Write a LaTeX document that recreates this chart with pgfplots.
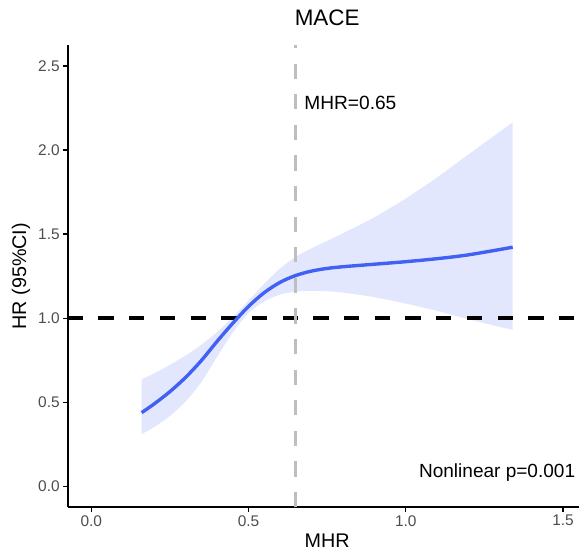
\documentclass[border=0pt]{standalone}
\usepackage{fontspec}
\setmainfont{Liberation Sans}
\usepackage{pgfplots}
\usepackage{pgfplotstable}
\pgfplotsset{compat=1.18}
\usepgfplotslibrary{fillbetween}

\definecolor{rcsblue}{HTML}{4161F5}
\definecolor{tickgray}{HTML}{4D4D4D}
\definecolor{vgray}{HTML}{BEBEBE}

% spline estimate with 95% CI
\pgfplotstableread{
x     y      lo     hi
0.16  0.438  0.310  0.636
0.20  0.490  0.352  0.672
0.25  0.563  0.418  0.722
0.30  0.648  0.505  0.778
0.35  0.748  0.620  0.842
0.40  0.862  0.770  0.918
0.45  0.970  0.915  1.005
0.50  1.070  1.030  1.105
0.55  1.152  1.100  1.205
0.60  1.213  1.140  1.295
0.65  1.254  1.158  1.365
0.70  1.280  1.163  1.415
0.75  1.296  1.160  1.460
0.80  1.306  1.152  1.505
0.90  1.321  1.125  1.600
1.00  1.336  1.087  1.712
1.10  1.354  1.043  1.838
1.20  1.377  0.993  1.975
1.34  1.422  0.930  2.165
}\rcs

\begin{document}
\begin{tikzpicture}
\begin{axis}[
    name=ax,
    scale only axis, width=518.9bp, height=462.3bp,
    xmin=-0.075, xmax=1.575, ymin=-0.125, ymax=2.625,
    axis x line*=bottom, axis y line*=left,
    axis line style={-, line width=1.6bp, black},
    xtick={0,0.5,1,1.5}, xticklabels={0.0,0.5,1.0,1.5},
    ytick={0,0.5,1,1.5,2,2.5}, yticklabels={0.0,0.5,1.0,1.5,2.0,2.5},
    tick align=outside, major tick length=4.5bp,
    tick style={line width=1.3bp, black},
    every tick label/.append style={font=\fontsize{15.5}{18}\selectfont, text=tickgray},
    title={MACE},
    title style={font=\fontsize{22.5}{26}\selectfont, anchor=base, at={(rel axis cs:0.5,1)}, yshift=14bp},
]
\addplot[black, line width=3.8bp, dash pattern=on 15.35bp off 15.35bp] coordinates {(-0.075,1) (1.575,1)};
\addplot[name path=hi, draw=none, smooth, forget plot] table[x=x, y=hi] {\rcs};
\addplot[name path=lo, draw=none, smooth, forget plot] table[x=x, y=lo] {\rcs};
\addplot[fill=rcsblue, fill opacity=0.15, draw=none] fill between[of=hi and lo];
\addplot[vgray, line width=2.8bp, dash pattern=on 15.3bp off 15.3bp] coordinates {(0.65,-0.125) (0.65,2.625)};
\addplot[rcsblue, line width=3.4bp, smooth] table[x=x, y=y] {\rcs};
\node[anchor=base west, inner sep=0pt, font=\fontsize{19.2}{22}\selectfont] at (axis cs:0.677,2.244) {MHR=0.65};
\node[anchor=base west, inner sep=0pt, font=\fontsize{19.1}{22}\selectfont] at (axis cs:1.0417,0.0535) {Nonlinear p=0.001};
\end{axis}
\node[rotate=90, font=\fontsize{19.8}{23}\selectfont] at (-46.7bp,231.15bp) {HR (95\%CI)};
\node[anchor=base, inner sep=0pt, font=\fontsize{19.8}{23}\selectfont] at (259.45bp,-40.5bp) {MHR};
\pgfresetboundingbox
\useasboundingbox (-67.7bp,-44.7bp) rectangle (511.3bp,507.3bp);
\end{tikzpicture}
\end{document}
